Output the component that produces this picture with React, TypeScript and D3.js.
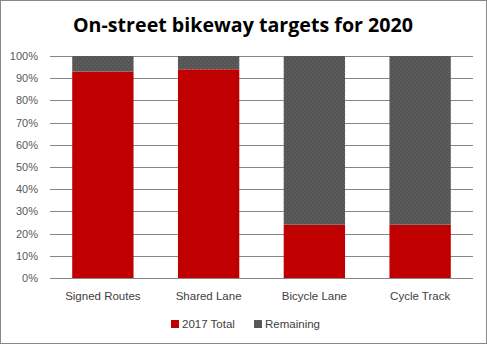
import React from "react";
import * as d3 from "d3";

const categories = ["Signed Routes", "Shared Lane", "Bicycle Lane", "Cycle Track"];
const total2017 = [0.93, 0.94, 0.24, 0.24];
const remaining = [0.07, 0.06, 0.76, 0.76];
const seriesNames = ["2017 Total", "Remaining"];
const seriesColors = ["#C00000", "#595959"];
const yTicks = [0, 0.1, 0.2, 0.3, 0.4, 0.5, 0.6, 0.7, 0.8, 0.9, 1.0];

const W = 487;
const H = 344;

export default function App() {
  const x = d3.scaleBand<string>().domain(categories).range([50, 473]).paddingInner(0.42).paddingOuter(0.21);
  const y = d3.scaleLinear().domain([0, 1]).range([278, 56]);
  const fmt = d3.format(".0%");
  const font = "'Liberation Sans', Arial, sans-serif";

  const rows = categories.map((c, i) => ({ c, vals: [total2017[i], remaining[i]] }));

  return (
    <svg width={W} height={H} style={{ position: "absolute", left: 0, top: 0 }}>
      <defs>
        <pattern id="dots" width="4" height="4" patternUnits="userSpaceOnUse">
          <rect width="4" height="4" fill="#555555" />
          <rect x="0" y="0" width="1" height="1" fill="#6a6a6a" />
          <rect x="2" y="2" width="1" height="1" fill="#6a6a6a" />
        </pattern>
      </defs>
      <rect x={0.5} y={0.5} width={W - 1} height={H - 1} fill="#fff" stroke="#888" />
      <text x={243} y={32} textAnchor="middle" fontFamily="'Open Sans', sans-serif" fontWeight="bold" fontSize={20} textLength={340} lengthAdjust="spacingAndGlyphs" fill="#000">
        On-street bikeway targets for 2020
      </text>
      {yTicks.map((t) => (
        <g key={t}>
          <line x1={50} x2={473} y1={Math.round(y(t)) + 0.5} y2={Math.round(y(t)) + 0.5} stroke="#868686" strokeWidth={1} />
          <text x={38} y={y(t) + 4} textAnchor="end" fontFamily={font} fontSize={11} fill="#595959">
            {fmt(t)}
          </text>
        </g>
      ))}
      {rows.map((r) => {
        let acc = 0;
        return (
          <g key={r.c}>
            {r.vals.map((v, si) => {
              const y0 = y(acc);
              acc += v;
              const y1 = y(acc);
              return (
                <rect
                  key={si}
                  x={x(r.c)}
                  width={x.bandwidth()}
                  y={y1}
                  height={y0 - y1}
                  fill={si === 1 ? "url(#dots)" : seriesColors[si]}
                />
              );
            })}
            <text x={(x(r.c) as number) + x.bandwidth() / 2} y={300} textAnchor="middle" fontFamily={font} fontSize={11.5} fill="#404040">
              {r.c}
            </text>
          </g>
        );
      })}
      <g>
        <rect x={171} y={320} width={8} height={8} fill={seriesColors[0]} />
        <text x={182} y={328} fontFamily={font} fontSize={11.5} fill="#404040">{seriesNames[0]}</text>
        <rect x={254} y={320} width={8} height={8} fill="url(#dots)" />
        <text x={265} y={328} fontFamily={font} fontSize={11.5} fill="#404040">{seriesNames[1]}</text>
      </g>
    </svg>
  );
}
